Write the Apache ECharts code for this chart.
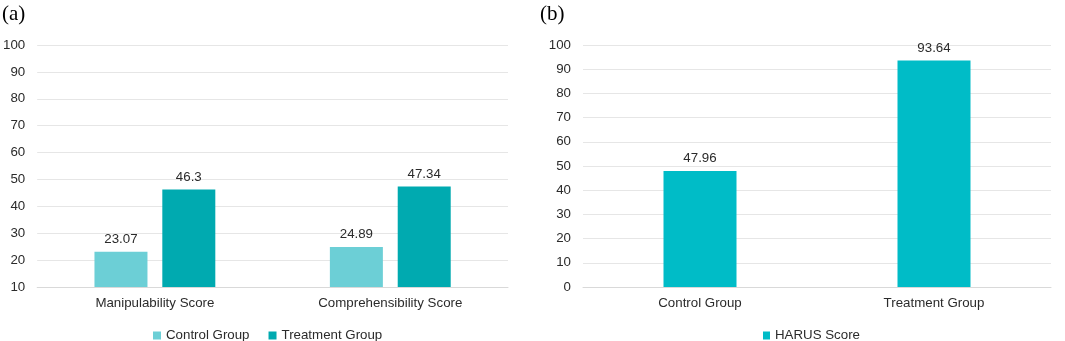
<!DOCTYPE html>
<html>
<head>
<meta charset="utf-8">
<script src="https://cdn.jsdelivr.net/npm/echarts@6/dist/echarts.min.js"></script>
<style>
html,body{margin:0;padding:0;background:#fff;}
#c{width:1065px;height:341px;}
</style>
</head>
<body>
<div id="c"></div>
<script>
// Panel (a)
const categoriesA = ['Manipulability Score', 'Comprehensibility Score'];
const controlA = [23.07, 24.89];
const treatmentA = [46.3, 47.34];
const yTicksA = {min: 10, max: 100, interval: 10};
// Panel (b)
const categoriesB = ['Control Group', 'Treatment Group'];
const harusB = [47.96, 93.64];
const yTicksB = {min: 0, max: 100, interval: 10};

const FONT = 'Liberation Sans, Arial, sans-serif';
const TXT = '#2b2b2b';
const FS = 13.3;
const chart = echarts.init(document.getElementById('c'), null, {renderer: 'canvas'});

const valueAxisBase = {
  type: 'value',
  axisLine: {show: false},
  axisTick: {show: false},
  splitLine: {lineStyle: {color: '#e6e6e6', width: 1}},
  axisLabel: {color: TXT, fontFamily: FONT, fontSize: FS, margin: 12}
};
const catAxisBase = {
  type: 'category',
  axisLine: {lineStyle: {color: '#d9d9d9', width: 1}},
  axisTick: {show: false},
  axisLabel: {color: TXT, fontFamily: FONT, fontSize: FS, margin: 10}
};
const labelBase = {show: true, position: 'top', distance: 6, color: TXT, fontFamily: FONT, fontSize: FS};

chart.setOption({
  animation: false,
  graphic: [
    {type: 'text', left: 2, top: 4, style: {text: '(a)', font: '21px "Liberation Serif", "Times New Roman", serif', fill: '#000'}},
    {type: 'text', left: 540, top: 4, style: {text: '(b)', font: '21px "Liberation Serif", "Times New Roman", serif', fill: '#000'}}
  ],
  grid: [
    {left: 35, right: 557, top: 45, bottom: 54},
    {left: 583, right: 14, top: 45, bottom: 54}
  ],
  legend: [
    {data: ['Control Group', 'Treatment Group'], left: 148, top: 324, itemWidth: 8, itemHeight: 8, itemGap: 19,
     textStyle: {color: TXT, fontFamily: FONT, fontSize: FS}, icon: 'rect'},
    {data: ['HARUS Score'], left: 758, top: 324, itemWidth: 7, itemHeight: 8,
     textStyle: {color: TXT, fontFamily: FONT, fontSize: FS}, icon: 'rect'}
  ],
  xAxis: [
    Object.assign({}, catAxisBase, {gridIndex: 0, data: categoriesA}),
    Object.assign({}, catAxisBase, {gridIndex: 1, data: categoriesB})
  ],
  yAxis: [
    Object.assign({}, valueAxisBase, {gridIndex: 0}, yTicksA),
    Object.assign({}, valueAxisBase, {gridIndex: 1}, yTicksB)
  ],
  series: [
    {name: 'Control Group', type: 'bar', xAxisIndex: 0, yAxisIndex: 0, data: controlA,
     barWidth: 53, barGap: '28%', itemStyle: {color: '#6ccfd6'}, label: labelBase},
    {name: 'Treatment Group', type: 'bar', xAxisIndex: 0, yAxisIndex: 0, data: treatmentA,
     barWidth: 53, barGap: '28%', itemStyle: {color: '#00aab0'}, label: labelBase},
    {name: 'HARUS Score', type: 'bar', xAxisIndex: 1, yAxisIndex: 1, data: harusB,
     barWidth: 73, itemStyle: {color: '#00bcc7'}, label: labelBase}
  ]
});
</script>
</body>
</html>
